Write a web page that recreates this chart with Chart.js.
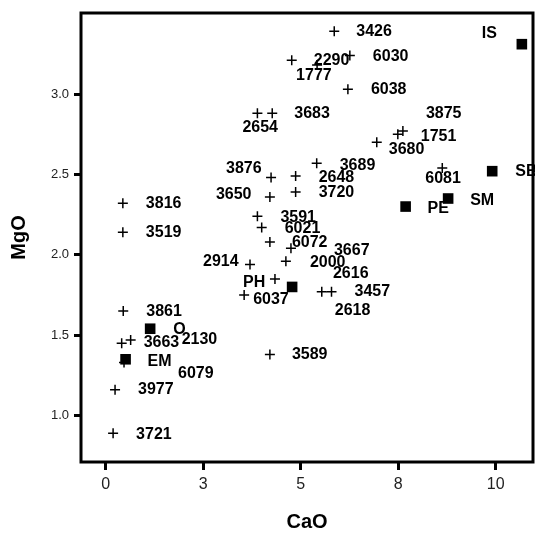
<!DOCTYPE html>
<html>
<head>
<meta charset="utf-8">
<script src="https://cdn.jsdelivr.net/npm/chart.js@4/dist/chart.umd.min.js"></script>
<style>
  html, body { margin: 0; padding: 0; background: #fff; }
</style>
</head>
<body>
<canvas id="chart" width="535" height="534"></canvas>
<script>
// Individual samples (plus markers)
const sampleIds = ['3426','2290','6030','1777','6038','2654','3683','3875','1751','3680',
                   '3689','3876','2648','3650','3720','3591','6021','6072','3667','2000',
                   '2914','2616','6037','3457','2618','3589','3816','3519','3861','3663',
                   '2130','6079','3977','3721','6081'];
const sampleCaO = [5.86, 4.77, 6.26, 5.42, 6.21, 3.89, 4.27, 7.62, 7.49, 6.95,
                   5.41, 4.24, 4.87, 4.21, 4.87, 3.89, 4.00, 4.21, 4.75, 4.62,
                   3.70, 4.34, 3.55, 5.79, 5.54, 4.21, 0.44, 0.44, 0.45, 0.41,
                   0.64, 0.47, 0.24, 0.19, 8.63];
const sampleMgO = [3.39, 3.21, 3.24, 3.18, 3.03, 2.88, 2.88, 2.77, 2.75, 2.70,
                   2.57, 2.48, 2.49, 2.36, 2.39, 2.24, 2.17, 2.08, 2.04, 1.96,
                   1.94, 1.85, 1.75, 1.77, 1.77, 1.38, 2.32, 2.14, 1.65, 1.45,
                   1.47, 1.33, 1.16, 0.89, 2.54];

// Group averages (filled squares)
const groupNames = ['IS','SB','PE','SM','PH','O','EM'];
const groupCaO   = [10.67, 9.91, 7.69, 8.78, 4.78, 1.14, 0.51];
const groupMgO   = [3.31, 2.52, 2.30, 2.35, 1.80, 1.54, 1.35];

// Axis ticks
const xTickValues = [0, 2.5, 5, 7.5, 10];
const xTickLabels = ['0', '3', '5', '8', '10'];
const yTickValues = [1.0, 1.5, 2.0, 2.5, 3.0];
const yTickLabels = ['1.0', '1.5', '2.0', '2.5', '3.0'];

// Label placement: pixel offset of each label's left edge / middle from its marker
const sampleLabelOffsets = [[22,0],[22,0],[23,1],[-21,11],[23,0],[-15,14],[22,0],[23,-17],[23,2],[12,7],
                            [23,2],[-45,-9],[23,2],[-54,-2],[23,1],[23,1],[23,1],[22,1],[43,2],[24,1],
                            [-47,-3],[58,-5],[9,5],[23,0],[13,19],[22,0],[23,0],[23,0],[23,1],[22,-1],
                            [51,0],[54,11],[23,0],[23,1],[-17,11]];
const groupLabelOffsets = [[-40,-11],[23,0],[22,2],[22,2],[-49,-4],[23,1],[22,2]];

const samplePoints = sampleCaO.map((x, i) => ({ x: x, y: sampleMgO[i] }));
const groupPoints = groupCaO.map((x, i) => ({ x: x, y: groupMgO[i] }));

const labelFont = "bold 16px 'Liberation Sans', Arial, sans-serif";
const tickFamily = "'Liberation Sans', Arial, sans-serif";

// Writes the sample / group names next to their markers
const pointLabels = {
  id: 'pointLabels',
  afterDatasetsDraw(chart) {
    const ctx = chart.ctx;
    ctx.save();
    ctx.font = labelFont;
    ctx.fillStyle = '#000';
    ctx.textAlign = 'left';
    ctx.textBaseline = 'middle';
    const sets = [[sampleIds, sampleLabelOffsets], [groupNames, groupLabelOffsets]];
    sets.forEach(([names, offsets], di) => {
      chart.getDatasetMeta(di).data.forEach((el, i) => {
        ctx.fillText(names[i], el.x + offsets[i][0], el.y + offsets[i][1]);
      });
    });
    ctx.restore();
  }
};

// Heavy frame around the plotting area
const frame = {
  id: 'frame',
  afterDraw(chart) {
    const a = chart.chartArea;
    const ctx = chart.ctx;
    ctx.save();
    ctx.strokeStyle = '#000';
    ctx.lineWidth = 3;
    ctx.strokeRect(a.left, a.top, a.right - a.left, a.bottom - a.top);
    ctx.restore();
  }
};

new Chart(document.getElementById('chart'), {
  type: 'scatter',
  data: {
    datasets: [
      {
        data: samplePoints,
        pointStyle: 'cross',
        radius: 5,
        hoverRadius: 5,
        borderColor: '#000',
        borderWidth: 1.5
      },
      {
        data: groupPoints,
        pointStyle: 'rect',
        radius: 7.5,
        hoverRadius: 7.5,
        backgroundColor: '#000',
        borderColor: '#000',
        borderWidth: 0
      }
    ]
  },
  options: {
    responsive: false,
    animation: false,
    devicePixelRatio: 1,
    layout: { autoPadding: false, padding: { top: 13, right: 2, left: 0, bottom: 0 } },
    plugins: { legend: { display: false }, tooltip: { enabled: false } },
    scales: {
      x: {
        type: 'linear',
        min: -0.633,
        max: 10.956,
        afterBuildTicks: s => { s.ticks = xTickValues.map(v => ({ value: v })); },
        afterFit: s => { s.height = 72; s.paddingLeft = 0; s.paddingRight = 0; },
        ticks: {
          callback: (v, i) => xTickLabels[i],
          font: { family: "'Liberation Sans Narrow', " + tickFamily, size: 16 },
          color: '#222',
          padding: 5,
          maxRotation: 0,
          autoSkip: false
        },
        grid: { drawOnChartArea: false, drawTicks: true, tickLength: 8, tickWidth: 3, tickColor: '#000' },
        border: { display: false },
        title: {
          display: true,
          text: 'CaO',
          color: '#000',
          font: { family: tickFamily, size: 20, weight: 'bold' },
          padding: { top: 4, bottom: 0 }
        }
      },
      y: {
        type: 'linear',
        min: 0.711,
        max: 3.504,
        afterBuildTicks: s => { s.ticks = yTickValues.map(v => ({ value: v })); },
        afterFit: s => { s.width = 81; s.paddingTop = 0; s.paddingBottom = 0; },
        ticks: {
          callback: (v, i) => yTickLabels[i],
          font: { family: tickFamily, size: 13 },
          color: '#222',
          padding: 5,
          autoSkip: false
        },
        grid: { drawOnChartArea: false, drawTicks: true, tickLength: 7, tickWidth: 3, tickColor: '#000' },
        border: { display: false },
        title: {
          display: true,
          text: 'MgO',
          color: '#000',
          font: { family: tickFamily, size: 20, weight: 'bold' },
          padding: { top: 7, bottom: 4 }
        }
      }
    }
  },
  plugins: [pointLabels, frame]
});
</script>
</body>
</html>
